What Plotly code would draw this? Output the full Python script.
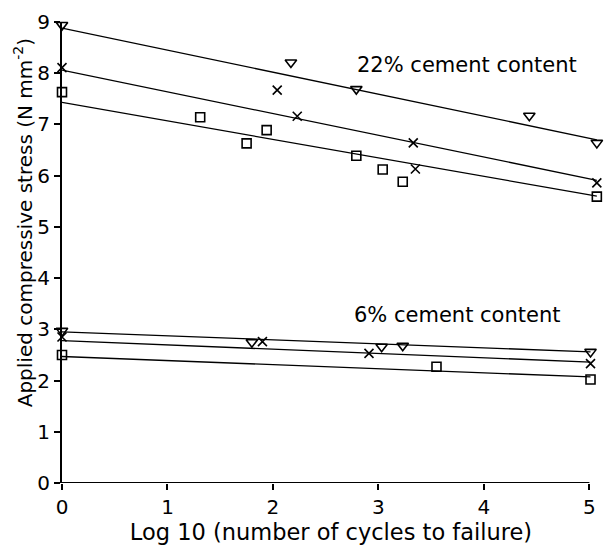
import plotly.graph_objects as go

# 22% cement content
c22_tri_x = [0.0, 2.17, 2.79, 4.43, 5.07]
c22_tri_y = [8.94, 8.21, 7.69, 7.17, 6.64]
c22_x_x = [0.0, 2.04, 2.23, 3.33, 3.35, 5.07]
c22_x_y = [8.11, 7.67, 7.16, 6.64, 6.13, 5.86]
c22_sq_x = [0.0, 1.31, 1.75, 1.94, 2.79, 3.04, 3.23, 5.07]
c22_sq_y = [7.63, 7.14, 6.63, 6.89, 6.39, 6.12, 5.88, 5.59]

# 6% cement content
c6_tri_x = [0.0, 1.80, 3.03, 3.23, 5.01]
c6_tri_y = [2.97, 2.75, 2.66, 2.68, 2.56]
c6_x_x = [0.0, 1.90, 2.91, 5.01]
c6_x_y = [2.85, 2.76, 2.53, 2.33]
c6_sq_x = [0.0, 3.55, 5.01]
c6_sq_y = [2.50, 2.27, 2.02]

# fitted lines (end points)
fit22_x = [0.0, 5.07]
fit22_tri = [8.88, 6.70]
fit22_x_line = [8.06, 5.91]
fit22_sq = [7.43, 5.60]
fit6_x = [0.0, 5.01]
fit6_tri = [2.95, 2.56]
fit6_x_line = [2.78, 2.36]
fit6_sq = [2.47, 2.07]

x_ticks = [0, 1, 2, 3, 4, 5]
y_ticks = [0, 1, 2, 3, 4, 5, 6, 7, 8, 9]

FONT = "DejaVu Sans"
fig = go.Figure()

for fx, fy in [(fit22_x, fit22_tri), (fit22_x, fit22_x_line), (fit22_x, fit22_sq),
               (fit6_x, fit6_tri), (fit6_x, fit6_x_line), (fit6_x, fit6_sq)]:
    fig.add_trace(go.Scatter(x=fx, y=fy, mode="lines",
                             line=dict(color="black", width=1.3),
                             showlegend=False, hoverinfo="skip"))

def pts(x, y, symbol, size):
    fig.add_trace(go.Scatter(x=x, y=y, mode="markers", cliponaxis=False,
                             marker=dict(symbol=symbol, size=size, color="black",
                                         line=dict(color="black", width=1.6)),
                             showlegend=False))

pts(c22_tri_x, c22_tri_y, "triangle-down-open", 10)
pts(c22_x_x, c22_x_y, "x-thin-open", 9)
pts(c22_sq_x, c22_sq_y, "square-open", 9)
pts(c6_tri_x, c6_tri_y, "triangle-down-open", 10)
pts(c6_x_x, c6_x_y, "x-thin-open", 9)
pts(c6_sq_x, c6_sq_y, "square-open", 9)

fig.add_annotation(x=3.84, y=8.16, xref="x", yref="y", text="22% cement content",
                   showarrow=False, font=dict(family=FONT, size=21, color="black"))
fig.add_annotation(x=3.74, y=3.28, xref="x", yref="y", text="6% cement content",
                   showarrow=False, font=dict(family=FONT, size=21, color="black"))

# y-axis title (placed as in the reference, slightly above the axis centre)
fig.add_annotation(x=-0.073, y=0.565, xref="paper", yref="paper", textangle=-90,
                   text="Applied compressive stress (N mm<sup>-2</sup>)",
                   showarrow=False, xanchor="center", yanchor="middle",
                   font=dict(family=FONT, size=20, color="black"))

# bottom axis line from 0 to 5
fig.add_shape(type="line", xref="x", yref="y", x0=x_ticks[0], x1=x_ticks[-1], y0=0, y1=0,
              line=dict(color="black", width=2))

fig.update_layout(
    width=605, height=547,
    margin=dict(l=62, r=5, t=22, b=64, autoexpand=False),
    paper_bgcolor="white", plot_bgcolor="white",
    font=dict(family=FONT, size=21, color="black"),
    xaxis=dict(range=[0, 5.1], tickvals=x_ticks, ticks="outside", ticklen=6, tickwidth=1.5,
               tickcolor="black", showline=False, showgrid=False, zeroline=False,
               title=dict(text="Log 10 (number of cycles to failure)",
                          font=dict(family=FONT, size=22.5), standoff=0),
               tickfont=dict(family=FONT, size=20)),
    yaxis=dict(range=[0, 9], tickvals=y_ticks, ticks="outside", ticklen=6, tickwidth=1.5,
               tickcolor="black", showline=True, linecolor="black", linewidth=2,
               showgrid=False, zeroline=False,
               tickfont=dict(family=FONT, size=20)),
)

fig.write_html("out.html", config={"displayModeBar": False},
               post_script="document.body.style.margin='0';document.body.style.padding='0';")
